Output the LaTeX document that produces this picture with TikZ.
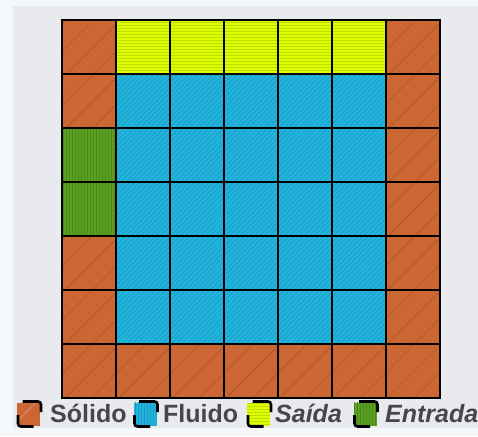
\documentclass[tikz,border=0pt]{standalone}
\usepackage{fontspec}
\setmainfont{Liberation Sans}
\usetikzlibrary{patterns.meta}
\definecolor{pagebg}{HTML}{F5F8FB}
\definecolor{panelbg}{HTML}{E8EAED}
\definecolor{solidcol}{HTML}{CC6633}
\definecolor{solidline}{HTML}{B0552A}
\definecolor{fluidcol}{HTML}{22B4DC}
\definecolor{fluidline}{HTML}{1A9CC4}
\definecolor{outcol}{HTML}{DDFF00}
\definecolor{outline}{HTML}{BCD800}
\definecolor{incol}{HTML}{5A9E22}
\definecolor{inline}{HTML}{4A8A18}
\definecolor{txt}{HTML}{46464F}
\tikzset{
  cellbox/.style={draw=black, line width=2.4pt, minimum size=54pt, inner sep=0pt, outer sep=0pt},
  sc/.style={preaction={fill=solidcol}, pattern={Lines[angle=45,distance=19pt,line width=0.6pt]}, pattern color=solidline},
  bc/.style={preaction={fill=fluidcol}, pattern={Lines[angle=45,distance=3.5pt,line width=0.7pt]}, pattern color=fluidline},
  yc/.style={preaction={fill=outcol}, pattern={Lines[angle=0,distance=3pt,line width=0.8pt]}, pattern color=outline},
  gc/.style={preaction={fill=incol}, pattern={Lines[angle=90,distance=3pt,line width=0.8pt]}, pattern color=inline},
  legbox/.style={minimum size=23pt, inner sep=0pt, outer sep=0pt},
  lsc/.style={preaction={fill=solidcol}, pattern={Lines[angle=45,distance=30pt,line width=0.6pt]}, pattern color=solidline},
  lbc/.style={preaction={fill=fluidcol}, pattern={Lines[angle=90,distance=3pt,line width=0.8pt]}, pattern color=fluidline},
  lyc/.style={preaction={fill=outcol}, pattern={Lines[angle=0,distance=3pt,line width=0.8pt]}, pattern color=outline},
  lgc/.style={preaction={fill=incol}, pattern={Lines[angle=90,distance=3pt,line width=0.8pt]}, pattern color=inline},
  bracket/.style={draw=black, line width=2.6pt, rounded corners=3pt},
  legtext/.style={anchor=base west, inner sep=0pt, text=txt, font=\fontsize{25}{30}\selectfont\bfseries},
}
\begin{document}
\begin{tikzpicture}[x=1pt, y=-1pt]
\useasboundingbox (0,0) rectangle (478,436);
\fill[pagebg] (0,0) rectangle (478,436);
\fill[panelbg] (13,6) rectangle (478,428);
\foreach \row/\lst in {0/{sc,yc,yc,yc,yc,yc,sc},1/{sc,bc,bc,bc,bc,bc,sc},2/{gc,bc,bc,bc,bc,bc,sc},3/{gc,bc,bc,bc,bc,bc,sc},4/{sc,bc,bc,bc,bc,bc,sc},5/{sc,bc,bc,bc,bc,bc,sc},6/{sc,sc,sc,sc,sc,sc,sc}}{
  \foreach \t [count=\c from 0] in \lst {
    \node[cellbox, \t] (c\row\c) at ({89+54*\c},{47+54*\row}) {};
  }
}
% legend
\foreach \i/\x/\s/\lab/\it in {1/28.5/lsc/Sólido/0, 2/145/lbc/Fluido/0, 3/258.5/lyc/Saída/1, 4/365/lgc/Entrada/1}{
  \node[legbox, \s] (l\i) at (\x,414) {};
  \draw[bracket] ([xshift=-6pt,yshift=1pt]l\i.north) -- ([xshift=1pt,yshift=1pt]l\i.north east) -- ([xshift=1pt,yshift=2pt]l\i.east);
  \draw[bracket] ([xshift=1pt,yshift=-1pt]l\i.west) -- ([xshift=1pt,yshift=-1pt]l\i.south west) -- ([xshift=5pt,yshift=-1pt]l\i.south);
}
\node[legtext] (t1) at (50,422) {Sólido};
\node[legtext] (t2) at (163,422) {Fluido};
\node[legtext] (t3) at (275,422) {\itshape Saída};
\node[legtext] (t4) at (385,422) {\itshape Entrada};
\end{tikzpicture}
\end{document}
